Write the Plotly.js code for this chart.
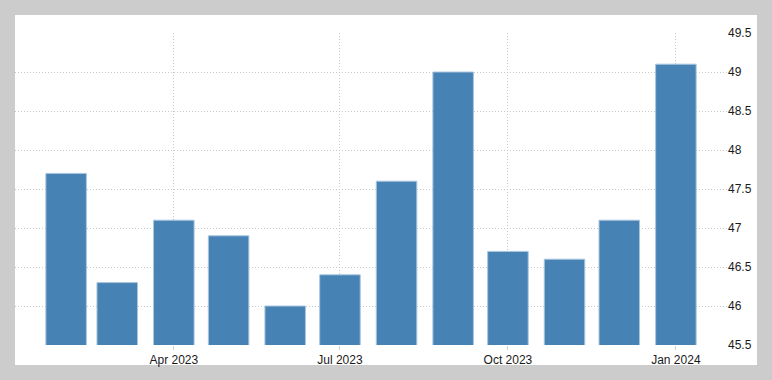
<!DOCTYPE html>
<html>
<head>
<meta charset="utf-8">
<script src="https://cdn.plot.ly/plotly-3.0.1.min.js"></script>
<style>
  html, body { margin: 0; padding: 0; background: #cccccc; }
  #chart { width: 772px; height: 380px; }
</style>
</head>
<body>
<div id="chart"></div>
<script>
const months = ['2023-02-01','2023-03-01','2023-04-01','2023-05-01','2023-06-01','2023-07-01',
                '2023-08-01','2023-09-01','2023-10-01','2023-11-01','2023-12-01','2024-01-01'];
const values = [47.7, 46.3, 47.1, 46.9, 46.0, 46.4, 47.6, 49.0, 46.7, 46.6, 47.1, 49.1];
const yTicks = [45.5, 46, 46.5, 47, 47.5, 48, 48.5, 49, 49.5];
const yTickText = ['45.5', '46', '46.5', '47', '47.5', '48', '48.5', '49', '49.5'];

const DAY = 86400000;

const trace = {
  type: 'bar',
  x: months,
  y: values,
  width: months.map(() => 22.2 * DAY),
  marker: { color: '#4682b4', line: { color: '#a9c6de', width: 1 } },
  hoverinfo: 'x+y'
};

const layout = {
  width: 772,
  height: 380,
  margin: { l: 15, r: 45, t: 33, b: 35 },
  paper_bgcolor: '#cccccc',
  plot_bgcolor: '#ffffff',
  showlegend: false,
  font: { family: 'Liberation Sans, Arial, sans-serif', size: 12, color: '#1a1a1a' },
  shapes: [{
    type: 'rect', xref: 'paper', yref: 'paper', layer: 'below',
    x0: 0, x1: 1.0421, y0: -0.0641, y1: 1.0577,
    fillcolor: '#ffffff', line: { width: 0 }
  }],
  xaxis: {
    type: 'date',
    range: ['2023-01-04', '2024-01-29'],
    tick0: '2023-01-01',
    dtick: 'M3',
    tickformat: '%b %Y',
    showgrid: true,
    gridcolor: '#c8c8c8',
    griddash: '1px,2px',
    gridwidth: 1,
    ticks: 'outside',
    ticklen: 4,
    tickcolor: '#d0d0d0',
    showline: false,
    zeroline: false,
    tickfont: { size: 12, color: '#1a1a1a' }
  },
  yaxis: {
    side: 'right',
    range: [45.5, 49.5],
    tickvals: yTicks,
    ticktext: yTickText,
    showgrid: true,
    gridcolor: '#c8c8c8',
    griddash: '1px,2px',
    gridwidth: 1,
    ticks: '',
    showline: false,
    zeroline: false,
    tickfont: { size: 12, color: '#1a1a1a' }
  },
  bargap: 0
};

Plotly.newPlot('chart', [trace], layout, { displayModeBar: false, staticPlot: true });
</script>
</body>
</html>
